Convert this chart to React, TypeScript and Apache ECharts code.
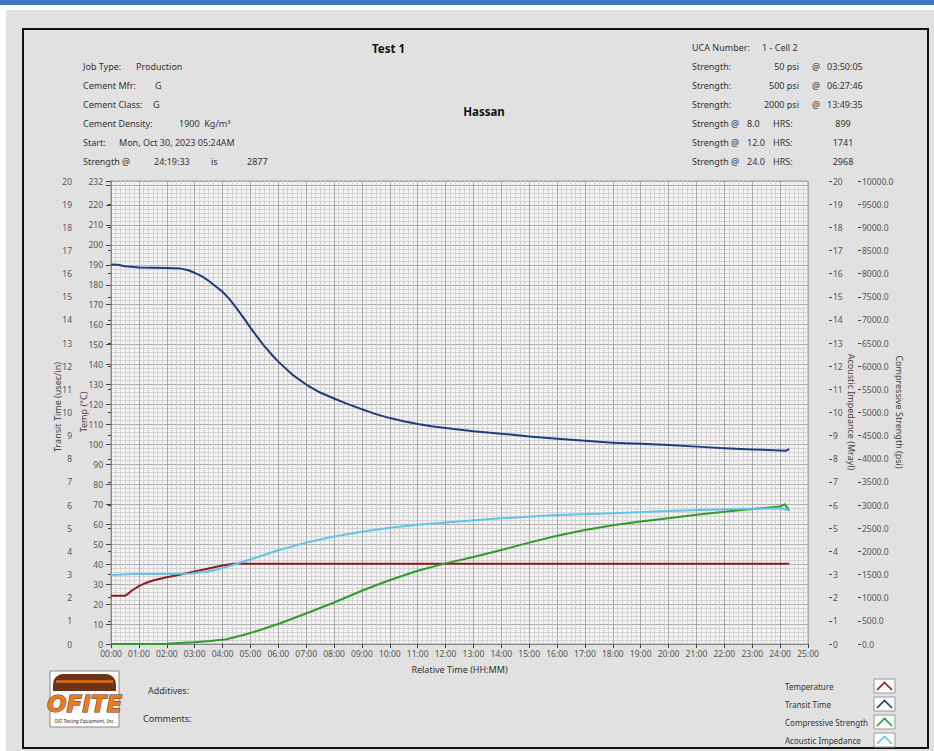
import { useEffect, useRef } from "react";
import * as echarts from "echarts";

const FONT = '"Noto Sans", "DejaVu Sans", sans-serif';

// ---- data (hours since start, values) ----
const tempHours = [0, 0.5, 0.6, 0.75, 1.0, 1.25, 1.5, 2.0, 2.5, 3.0, 3.5, 4.0, 4.4, 4.6, 5, 8, 12, 16, 20, 24.326];
const tempValues = [24.2, 24.2, 25, 26.8, 29, 30.6, 31.8, 33.4, 34.8, 36.4, 37.8, 39.3, 40.2, 40.2, 40.2, 40.2, 40.2, 40.2, 40.2, 40.2];

const transitHours = [0, 0.25, 0.5, 0.75, 1, 1.5, 2, 2.5, 2.75, 3, 3.25, 3.5, 3.75, 4, 4.25, 4.5, 4.75, 5, 5.25, 5.5, 5.75, 6, 6.5, 7, 7.5, 8, 8.5, 9, 9.5, 10, 10.5, 11, 11.5, 12, 13, 14, 15, 16, 17, 18, 19, 20, 21, 22, 23, 24, 24.2, 24.326];
const transitValues = [190.2, 190, 189.3, 189, 188.7, 188.5, 188.4, 188.1, 187.4, 186, 184.3, 182, 179.3, 176.5, 172.8, 168.3, 163.5, 158.5, 153.8, 149.3, 145.2, 141.5, 135, 130, 126, 123, 120.2, 117.6, 115.2, 113.2, 111.6, 110.2, 109.1, 108.2, 106.6, 105.4, 104, 102.8, 101.8, 100.9, 100.3, 99.7, 98.9, 98.1, 97.5, 97, 96.8, 97.7];

const strengthHours = [0, 1, 2, 2.6, 3.0, 3.55, 4.15, 4.75, 5.35, 6.07, 7.02, 7.98, 9.06, 10.01, 10.97, 12.0, 13.0, 14.0, 15, 16, 17, 18, 19, 20, 21, 22, 23, 24, 24.17, 24.326];
const strengthValues = [0, 0, 5, 28, 40, 65, 102, 194, 302, 447, 663, 892, 1166, 1382, 1577, 1741, 1880, 2030, 2190, 2340, 2460, 2565, 2645, 2715, 2790, 2857, 2915, 2968, 3017, 2877];

const impedanceHours = [0, 0.8, 2.0, 2.9, 3.4, 3.8, 4.2, 4.6, 5.0, 5.3, 6.0, 7.0, 8.0, 9.0, 10.0, 11.0, 12.0, 14.0, 16.0, 18.0, 20.0, 22.0, 24.0, 24.326];
const impedanceValues = [2.98, 3.02, 3.02, 3.05, 3.12, 3.22, 3.35, 3.5, 3.65, 3.77, 4.05, 4.38, 4.64, 4.85, 5.02, 5.15, 5.25, 5.43, 5.57, 5.65, 5.75, 5.82, 5.86, 5.78];

const seriesNames = ["Temperature", "Transit Time", "Compressive Strength", "Acoustic Impedance"];
const seriesColors = ["#8e1c1f", "#1e3d7a", "#2f9a30", "#62c4e4"];

const headerLeft = [
  ["Job Type:", "Production"],
  ["Cement Mfr:", "G"],
  ["Cement Class:", "G"],
  ["Cement Density:", "1900  Kg/m³"],
  ["Start:", "Mon, Oct 30, 2023 05:24AM"],
];
const strengthAtTime = ["24:19:33", "is", "2877"];
const ucaNumber = "1 - Cell 2";
const strengthMilestones = [
  ["50 psi", "03:50:05"],
  ["500 psi", "06:27:46"],
  ["2000 psi", "13:49:35"],
];
const strengthAtHours = [
  ["8.0", "899"],
  ["12.0", "1741"],
  ["24.0", "2968"],
];

const zip = (a: number[], b: number[]) => a.map((x, i) => [x, b[i]]);
const pad = (n: number) => String(n).padStart(2, "0");

export default function App() {
  const ref = useRef<HTMLDivElement>(null);
  useEffect(() => {
    const chart = echarts.init(ref.current!, null, { renderer: "svg" });
    const txt = (x: number, y: number, text: string, extra: any = {}, rotation = 0) => ({
      type: "text",
      x,
      y,
      rotation,
      style: {
        text,
        fontFamily: FONT,
        fontSize: 9,
        fill: "#333",
        verticalAlign: "middle",
        align: "left",
        ...extra,
      },
    });

    const graphics: any[] = [
      { type: "rect", z: -1, shape: { x: 6, y: 10, width: 928, height: 741 }, style: { fill: "#e1e1e1" } },
      { type: "rect", z: -1, shape: { x: 0, y: 0, width: 934, height: 5 }, style: { fill: "#4472c4" } },
      { type: "rect", z: -1, shape: { x: 23, y: 29, width: 905, height: 719 }, style: { fill: "none", stroke: "#111", lineWidth: 2 } },
      txt(484, 111, "Hassan", { fontWeight: "bold", fontSize: 11.5, fill: "#111", align: "center" }),
    ];
    const rowsY = [66, 85, 104, 123, 142];
    const valX = [136, 155, 153, 179, 119];
    headerLeft.forEach((r, i) => {
      graphics.push(txt(83, rowsY[i], r[0]));
      graphics.push(txt(valX[i], rowsY[i], r[1]));
    });
    graphics.push(txt(83, 161, "Strength @"));
    graphics.push(txt(154, 161, strengthAtTime[0]));
    graphics.push(txt(211, 161, strengthAtTime[1]));
    graphics.push(txt(247, 161, strengthAtTime[2]));

    graphics.push(txt(692, 47, "UCA Number:"));
    graphics.push(txt(762, 47, ucaNumber));
    strengthMilestones.forEach((r, i) => {
      const y = 66 + i * 19;
      graphics.push(txt(692, y, "Strength:"));
      graphics.push(txt(799, y, r[0], { align: "right" }));
      graphics.push(txt(812, y, "@"));
      graphics.push(txt(827, y, r[1]));
    });
    strengthAtHours.forEach((r, i) => {
      const y = 123 + i * 19;
      graphics.push(txt(692, y, "Strength @"));
      graphics.push(txt(747, y, r[0]));
      graphics.push(txt(773, y, "HRS:"));
      graphics.push(txt(843, y, r[1], { align: "center" }));
    });

    // axis names
    graphics.push(txt(57, 407, "Transit Time (usec/in)", { align: "center", fill: "#444" }, Math.PI / 2));
    graphics.push(txt(83, 412, "Temp (°C)", { align: "center", fill: "#444" }, Math.PI / 2));
    graphics.push(txt(851, 412, "Acoustic Impedance (Mrayl)", { align: "center", fill: "#444" }, -Math.PI / 2));
    graphics.push(txt(899, 412, "Compressive Strength (psi)", { align: "center", fill: "#444" }, -Math.PI / 2));

    // bottom texts
    graphics.push(txt(148, 690, "Additives:"));
    graphics.push(txt(143, 718, "Comments:"));

    // legend
    [0, 1, 2, 3].forEach((si, i) => {
      const y = 686 + i * 18;
      graphics.push(txt(785, y, seriesNames[si], { fontSize: 8 }));
      graphics.push({ type: "rect", shape: { x: 874, y: y - 7, width: 21, height: 14 }, style: { fill: "#fafafa", stroke: "#9a9a9a", lineWidth: 1 } });
      graphics.push({
        type: "polyline",
        shape: { points: [[877, y + 4], [884.5, y - 3.5], [892, y + 4]] },
        style: { stroke: seriesColors[si], lineWidth: 1.6, fill: "none" },
      });
    });

    // logo
    graphics.push({ type: "rect", shape: { x: 50, y: 671, width: 69, height: 56 }, style: { fill: "#ffffff", stroke: "#8a8a8a", lineWidth: 1 } });
    graphics.push({ type: "rect", shape: { x: 53, y: 674, width: 63, height: 17, r: [10, 10, 0, 0] }, style: { fill: "#6a3417" } });
    graphics.push({ type: "rect", shape: { x: 56, y: 680, width: 57, height: 3 }, style: { fill: "#c8661f" } });
    graphics.push({
      type: "text",
      x: 84.5,
      y: 704,
      style: {
        text: "OFITE",
        fontFamily: '"DejaVu Sans", sans-serif',
        fontWeight: "bold",
        fontStyle: "italic",
        fontSize: 23,
        fill: "#ee7a1e",
        stroke: "#5a2a10",
        lineWidth: 1,
        align: "center",
        verticalAlign: "middle",
      },
    });
    graphics.push({
      type: "text",
      x: 84.5,
      y: 721,
      style: { text: "OFI Testing Equipment, Inc.", fontFamily: FONT, fontSize: 5, fontStyle: "italic", fill: "#333", align: "center", verticalAlign: "middle" },
    });

    const labelColor = "#555";
    const tickStyle = { color: "#444", width: 1 };
    const lineSeries = (i: number, axis: number, h: number[], v: number[]) => ({
      name: seriesNames[i],
      type: "line",
      yAxisIndex: axis,
      data: zip(h, v),
      showSymbol: false,
      smooth: false,
      lineStyle: { color: seriesColors[i], width: 2, join: "round" },
      itemStyle: { color: seriesColors[i] },
    });
    const option: any = {
      animation: false,
      backgroundColor: "#ffffff",
      title: {
        text: "Test 1",
        left: 367,
        top: 37,
        textStyle: { fontFamily: FONT, fontSize: 11.5, fontWeight: "bold", color: "#111" },
      },
      grid: {
        left: 111,
        top: 181,
        width: 697,
        height: 463,
        show: true,
        backgroundColor: "#f4f4f4",
        borderColor: "#9a9a9a",
        borderWidth: 1,
      },
      xAxis: {
        type: "value",
        min: 0,
        max: 25,
        interval: 1,
        name: "Relative Time (HH:MM)",
        nameLocation: "middle",
        nameGap: 21,
        nameTextStyle: { fontFamily: FONT, fontSize: 9, color: "#333" },
        axisLine: { show: true, onZero: false, lineStyle: { color: "#888" } },
        axisTick: { show: true, length: 4, lineStyle: tickStyle },
        axisLabel: { fontFamily: FONT, fontSize: 8.5, color: labelColor, margin: 5, formatter: (v: number) => pad(v) + ":00" },
        splitLine: { show: true, lineStyle: { color: "#a9a9a9", width: 1 } },
        minorTick: { show: false, splitNumber: 6 },
        minorSplitLine: { show: true, lineStyle: { color: "#d3d3d3", width: 1 } },
      },
      yAxis: [
        {
          type: "value",
          position: "left",
          min: 0,
          max: 232,
          interval: 10,
          axisLine: { show: true, onZero: false, lineStyle: { color: "#888" } },
          axisTick: { show: true, length: 5, lineStyle: tickStyle },
          axisLabel: { fontFamily: FONT, fontSize: 8.5, color: labelColor, margin: 8, formatter: (v: number) => (v === 230 ? "" : String(v)) },
          splitLine: { show: true, lineStyle: { color: "#a9a9a9", width: 1 } },
          minorTick: { show: false, splitNumber: 5 },
          minorSplitLine: { show: true, lineStyle: { color: "#d3d3d3", width: 1 } },
        },
        {
          type: "value",
          position: "left",
          offset: 35,
          min: 0,
          max: 20,
          interval: 1,
          axisLine: { show: false },
          axisTick: { show: true, length: 3, lineStyle: tickStyle },
          axisLabel: { fontFamily: FONT, fontSize: 8.5, color: labelColor, margin: 4 },
          splitLine: { show: false },
        },
        {
          type: "value",
          position: "right",
          offset: 21,
          min: 0,
          max: 20,
          interval: 1,
          axisLine: { show: false },
          axisTick: { show: true, length: 3, lineStyle: tickStyle },
          axisLabel: { fontFamily: FONT, fontSize: 8.5, color: labelColor, margin: 4 },
          splitLine: { show: false },
        },
        {
          type: "value",
          position: "right",
          offset: 50,
          min: 0,
          max: 10000,
          interval: 500,
          axisLine: { show: false },
          axisTick: { show: true, length: 3, lineStyle: tickStyle },
          axisLabel: { fontFamily: FONT, fontSize: 8.5, color: labelColor, margin: 4, formatter: (v: number) => v.toFixed(1) },
          splitLine: { show: false },
        },
      ],
      series: [
        lineSeries(0, 0, tempHours, tempValues),
        lineSeries(1, 0, transitHours, transitValues),
        lineSeries(2, 3, strengthHours, strengthValues),
        lineSeries(3, 2, impedanceHours, impedanceValues),
      ],
      graphic: graphics,
    };
    chart.setOption(option);
    return () => chart.dispose();
  }, []);
  return <div ref={ref} style={{ position: "absolute", left: 0, top: 0, width: 934, height: 751 }} />;
}
